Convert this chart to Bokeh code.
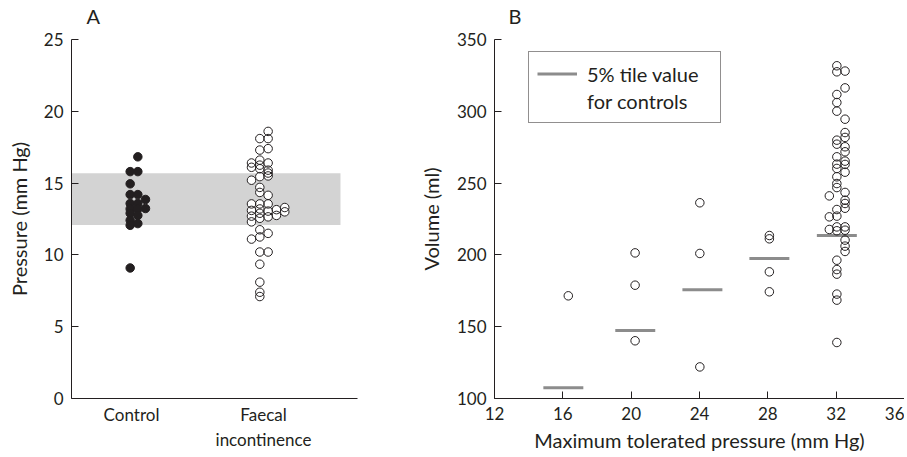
from bokeh.plotting import figure
from bokeh.layouts import row
from bokeh.models import (FixedTicker, BoxAnnotation, Legend, LegendItem, Range1d, Title)
from bokeh.embed import file_html
from bokeh.resources import INLINE

FONT = "Lato"
TXT = "#231f20"
MED = "#8c8c8c"
BAND = "#d3d3d3"

# ---------------- Panel A data (pressure, mm Hg) ----------------
group_ticks = [1, 2]
group_labels = ["Control", "Faecal\nincontinence"]

# values grouped by column of the dot plot
control_cols = [
    [15.8, 14.95, 14.2, 13.58, 13.2, 12.9, 12.41, 12.06, 9.09],
    [16.83, 15.8, 14.2, 13.58, 13.2, 12.75, 12.18],
    [13.86, 13.23],
]
faecal_cols = [
    [16.4, 16.1, 15.2, 13.55, 13.1, 12.7, 12.3, 11.1],
    [18.1, 17.3, 16.6, 16.25, 16.0, 15.45, 14.7, 14.35, 13.55, 13.2, 12.9,
     12.55, 11.75, 11.25, 10.2, 9.35, 8.1, 7.4, 7.1],
    [18.6, 18.1, 17.4, 16.4, 15.9, 15.7, 15.5, 14.15, 13.55, 13.05, 12.65,
     11.5, 10.2],
    [13.15, 12.75],
    [13.3, 13.0],
]
band_low, band_high = 12.08, 15.69

# ---------------- Panel B data (volume, ml) ----------------
pressure_levels = [16, 20, 24, 28, 32]
volumes_16 = [171.5]
volumes_20 = [201.4, 178.9, 140.2]
volumes_24 = [236.3, 201.0, 122.0]
volumes_28 = [213.5, 211.2, 188.2, 174.3]
volumes_32_left = [241.1, 226.5, 217.7]
volumes_32_mid = [331.7, 327.5, 311.7, 306.1, 300.1, 279.9, 277.1, 268.3,
                  263.2, 260.2, 254.4, 249.7, 246.9, 231.6, 227.0, 219.5,
                  216.8, 196.3, 189.8, 186.6, 172.7, 168.5, 139.0]
volumes_32_right = [328.0, 316.3, 294.5, 285.2, 281.8, 275.3, 271.8, 265.3,
                    263.0, 257.6, 243.5, 238.1, 235.8, 232.5, 219.5, 217.2,
                    210.3, 206.1, 202.4]
control_5pct = [107.4, 147.4, 175.7, 197.5, 213.5]

# ---------------- common styling ----------------
def style(p):
    p.outline_line_color = None
    p.xgrid.visible = False
    p.ygrid.visible = False
    p.background_fill_color = "white"
    p.border_fill_color = "white"
    for ax in p.axis:
        ax.axis_line_color = TXT
        ax.axis_line_width = 1
        ax.major_tick_line_color = TXT
        ax.major_tick_in = 7
        ax.major_tick_out = 0
        ax.minor_tick_line_color = None
        ax.major_label_text_font = FONT
        ax.major_label_text_font_size = "17px"
        ax.major_label_text_color = TXT
        ax.major_label_standoff = 8
        ax.axis_label_text_font = FONT
        ax.axis_label_text_font_size = "20px"
        ax.axis_label_text_font_style = "normal"
        ax.axis_label_text_color = TXT

def panel_letter(p, letter, offset):
    # invisible spacer next to the frame, then the panel letter above it
    p.add_layout(Title(text=" ", text_font_size="2px", standoff=8,
                       text_color="white"), "above")
    p.add_layout(Title(text=letter, align="left", offset=offset,
                       text_font=FONT, text_font_size="20px",
                       text_font_style="normal", text_color=TXT,
                       standoff=0), "above")

SZ = 8.5
FRAME_H = 359
TOP = 39
BOTTOM = 55

# ---------------- Panel A ----------------
pA = figure(frame_width=286, frame_height=FRAME_H,
            x_range=Range1d(0.5455, 2.712), y_range=Range1d(0, 25),
            output_backend="svg", toolbar_location=None,
            min_border_left=71, min_border_right=58,
            min_border_top=TOP, min_border_bottom=BOTTOM)
style(pA)
panel_letter(pA, "A", 15)
pA.yaxis.axis_label = "Pressure (mm Hg)"
pA.yaxis.axis_label_standoff = 10
pA.yaxis.ticker = FixedTicker(ticks=[0, 5, 10, 15, 20, 25])
pA.xaxis.ticker = FixedTicker(ticks=group_ticks)
pA.xaxis.major_label_overrides = {t: l for t, l in zip(group_ticks, group_labels)}
pA.xaxis.major_tick_in = 0
pA.xaxis.major_tick_out = 0
pA.xaxis.major_label_standoff = 5

pA.add_layout(BoxAnnotation(left=0.5455, right=2.583, bottom=band_low,
                            top=band_high, fill_color=BAND, fill_alpha=1,
                            line_color=None, level="underlay"))

c_step, c_start = 0.058, group_ticks[0] - 0.01
for i, col in enumerate(control_cols):
    xs = [c_start + i * c_step] * len(col)
    pA.scatter(xs, col, size=SZ, marker="circle", fill_color=TXT,
               line_color=TXT, line_width=1)

f_step, f_start = 0.063, group_ticks[1] - 0.091
for i, col in enumerate(faecal_cols):
    xs = [f_start + i * f_step] * len(col)
    pA.scatter(xs, col, size=SZ, marker="circle", fill_color="white",
               line_color=None)
for i, col in enumerate(faecal_cols):
    xs = [f_start + i * f_step] * len(col)
    pA.scatter(xs, col, size=SZ, marker="circle", fill_color=None,
               line_color=TXT, line_width=1)

# ---------------- Panel B ----------------
pB = figure(frame_width=410, frame_height=FRAME_H,
            x_range=Range1d(12, 36), y_range=Range1d(100, 350),
            output_backend="svg", toolbar_location=None,
            min_border_left=78, min_border_right=0,
            min_border_top=TOP, min_border_bottom=BOTTOM)
style(pB)
panel_letter(pB, "B", 14)
pB.yaxis.axis_label = "Volume (ml)"
pB.yaxis.axis_label_standoff = 11
pB.xaxis.axis_label = "Maximum tolerated pressure (mm Hg)"
pB.xaxis.axis_label_standoff = 5
pB.yaxis.ticker = FixedTicker(ticks=[100, 150, 200, 250, 300, 350])
pB.xaxis.ticker = FixedTicker(ticks=[12, 16, 20, 24, 28, 32, 36])

half_w = 1.17
med_x = [16.03, 20.24, 24.17, 28.09, 32.04]
seg = pB.segment(x0=[x - half_w for x in med_x], x1=[x + half_w for x in med_x],
                 y0=control_5pct, y1=control_5pct, line_color=MED,
                 line_width=3)

groups_b = [
    (16.32, volumes_16), (20.23, volumes_20), (24.02, volumes_24),
    (28.09, volumes_28), (31.60, volumes_32_left), (32.04, volumes_32_mid),
    (32.52, volumes_32_right),
]
for xpos, vals in groups_b:
    pB.scatter([xpos] * len(vals), vals, size=SZ, marker="circle",
               fill_color=None, line_color=TXT, line_width=1)

dummy = pB.line(x=[], y=[], line_alpha=0)
legend = Legend(items=[LegendItem(label="5% tile value", renderers=[seg]),
                       LegendItem(label="for controls", renderers=[dummy])],
                location=(34, 275), margin=0, padding=8, spacing=0,
                glyph_width=40, glyph_height=27, label_height=27,
                label_width=125, label_standoff=10,
                label_text_font=FONT, label_text_font_size="20px",
                label_text_color=TXT, border_line_color=TXT,
                border_line_width=1, background_fill_color="white",
                background_fill_alpha=1)
pB.add_layout(legend)

layout = row(pA, pB)
open("out.html", "w").write(file_html(layout, INLINE))
